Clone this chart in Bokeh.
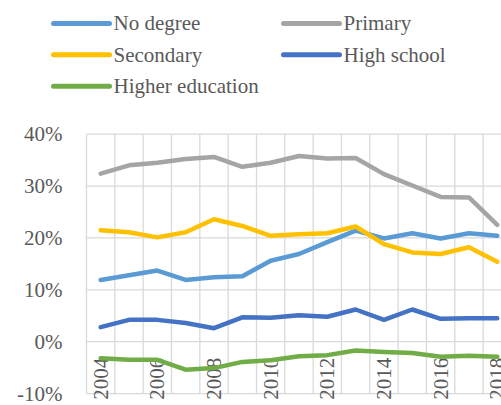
import math
from bokeh.plotting import figure
from bokeh.models import ColumnDataSource, Range1d
from bokeh.core.properties import value
from bokeh.embed import file_html
from bokeh.resources import INLINE

years = list(range(2004, 2019))
label_years = [2004, 2006, 2008, 2010, 2012, 2014, 2016, 2018]
year_labels = ["2004", "2006", "2008", "2010", "2012", "2014", "2016", "2018"]

no_degree = [0.119, 0.128, 0.137, 0.119, 0.124, 0.126, 0.156, 0.169, 0.192, 0.214,
             0.199, 0.209, 0.199, 0.209, 0.204]
primary = [0.324, 0.340, 0.345, 0.352, 0.356, 0.337, 0.345, 0.358, 0.353, 0.354,
           0.323, 0.301, 0.279, 0.278, 0.225]
secondary = [0.215, 0.211, 0.201, 0.211, 0.236, 0.223, 0.204, 0.207, 0.209, 0.222,
             0.188, 0.172, 0.169, 0.182, 0.154]
high_school = [0.028, 0.042, 0.042, 0.036, 0.026, 0.047, 0.046, 0.051, 0.048, 0.062,
               0.042, 0.062, 0.044, 0.045, 0.045]
higher_ed = [-0.032, -0.035, -0.035, -0.054, -0.051, -0.039, -0.036, -0.028, -0.026, -0.017,
             -0.020, -0.022, -0.029, -0.027, -0.029]

series_names = ["No degree", "Primary", "Secondary", "High school", "Higher education"]
colors = ["#5B9BD5", "#A5A5A5", "#FFC000", "#4472C4", "#70AD47"]
y_ticks = [-0.1, 0.0, 0.1, 0.2, 0.3, 0.4]
y_tick_labels = ["-10%", "0%", "10%", "20%", "30%", "40%"]

FONT = "Liberation Serif"
TXT = "#595959"
GRID = "#D9D9D9"

# plot-area geometry (pixels) -> data ranges
PX_PER_YEAR = 28.33
PX_PER_UNIT = 520.0
LEFT_PX, TOP_PX, BOTTOM_PX, W, H = 86, 134, 393, 501, 405
x0 = years[0] - 0.5
x_start = x0 - LEFT_PX / PX_PER_YEAR
x_end = x0 + (W - LEFT_PX) / PX_PER_YEAR
y_top = max(y_ticks) + TOP_PX / PX_PER_UNIT
y_bot = min(y_ticks) - (H - BOTTOM_PX) / PX_PER_UNIT

def px_x(px):
    return x_start + px / PX_PER_YEAR

def px_y(py):
    return y_top - py / PX_PER_UNIT

p = figure(width=W, height=H, output_backend="svg", toolbar_location=None,
           x_range=Range1d(x_start, x_end), y_range=Range1d(y_bot, y_top),
           x_axis_location=None, y_axis_location=None,
           min_border=0, min_border_left=0, min_border_right=0,
           min_border_top=0, min_border_bottom=0)
p.outline_line_color = None
p.background_fill_color = "white"
p.border_fill_color = "white"
p.grid.visible = False

# gridlines
grid_x = [y - 0.5 for y in years] + [years[-1] + 0.5]
p.segment(x0=grid_x, x1=grid_x, y0=[min(y_ticks)] * len(grid_x), y1=[max(y_ticks)] * len(grid_x),
          line_color=GRID, line_width=1.3)
p.segment(x0=[x0] * len(y_ticks), x1=[years[-1] + 0.5] * len(y_ticks), y0=y_ticks, y1=y_ticks,
          line_color=GRID, line_width=1.3)

# y tick labels
p.text(x=[x0] * len(y_ticks), y=y_ticks, text=y_tick_labels, x_offset=-24,
       text_align="right", text_baseline="middle", text_font=value(FONT),
       text_font_size="21px", text_color=TXT)

# x tick labels (rotated, inside plot area as in the reference)
p.text(x=label_years, y=[-0.031] * len(label_years), text=year_labels, angle=math.pi / 2,
       text_align="right", text_baseline="middle", text_font=value(FONT),
       text_font_size="21px", text_color=TXT)

src = ColumnDataSource(dict(year=years, nd=no_degree, pr=primary, se=secondary,
                            hs=high_school, he=higher_ed))
cols = ["nd", "pr", "se", "hs", "he"]
for c, col in zip(cols, colors):
    p.line("year", c, source=src, line_color=col, line_width=4.5,
           line_join="round", line_cap="round")

# legend: 2 columns, filled row by row
COL_PX = [53, 283]
ROW_PX = [23, 54.5, 86]
SWATCH = 56
lx0, lx1, ly, tx = [], [], [], []
for i in range(len(series_names)):
    cpx = COL_PX[i % 2]
    rpx = ROW_PX[i // 2]
    lx0.append(px_x(cpx))
    lx1.append(px_x(cpx + SWATCH))
    ly.append(px_y(rpx))
    tx.append(px_x(cpx + SWATCH + 4))
p.segment(x0=lx0, x1=lx1, y0=ly, y1=ly, line_color=colors, line_width=5, line_cap="round")
p.text(x=tx, y=ly, text=series_names, text_align="left", text_baseline="middle",
       text_font=value(FONT), text_font_size="21px", text_color=TXT)

open("out.html", "w").write(file_html(p, INLINE))
